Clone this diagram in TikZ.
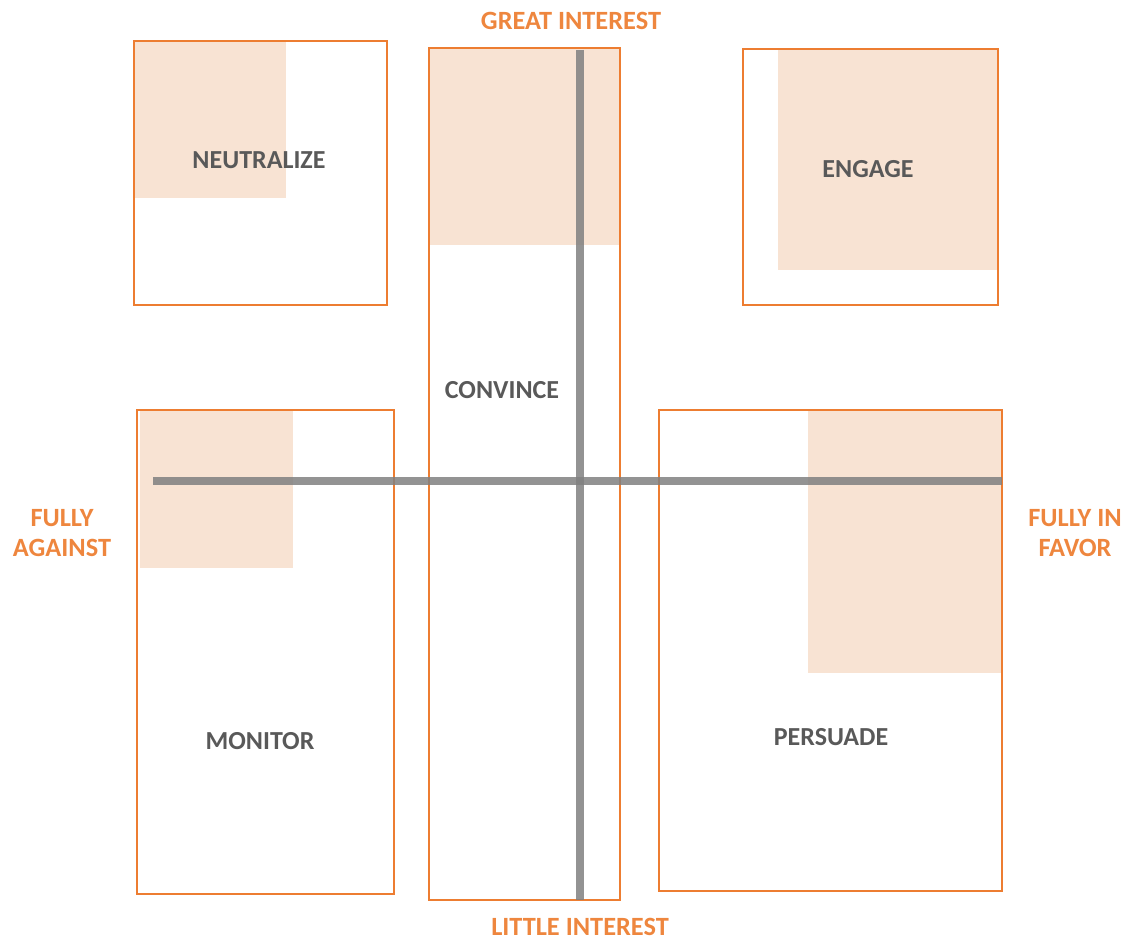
\documentclass[tikz,border=0pt]{standalone}
\usepackage{fontspec}
\setmainfont{Carlito}
\usepackage{tikz}
\usetikzlibrary{arrows.meta}

\definecolor{boxorange}{RGB}{237,125,49}
\definecolor{labelorange}{RGB}{238,134,62}
\definecolor{peach}{RGB}{248,227,211}
\definecolor{axisgray}{RGB}{128,128,128}
\definecolor{textgray}{RGB}{89,89,89}

\tikzset{
    quadbox/.style={draw=boxorange, line width=1.1pt},
    shade/.style={fill=peach},
    axisline/.style={draw=axisgray, line width=5pt, opacity=0.85},
    action/.style={font={\fontsize{14.8}{17}\selectfont\bfseries}, text=textgray},
    pole/.style={font={\fontsize{15}{17.6}\selectfont\bfseries}, text=labelorange, align=center, inner sep=1pt}
}

\begin{document}
\begin{tikzpicture}[x=0.02cm, y=-0.02cm]
        \useasboundingbox (0,0) rectangle (1124,939);
        % shaded parts
        \fill[shade] (134, 40) rectangle (286, 198);
        \fill[shade] (429, 48) rectangle (620, 245);
        \fill[shade] (778, 49) rectangle (998, 270);
        \fill[shade] (140, 410) rectangle (293, 568);
        \fill[shade] (808, 410) rectangle (1002, 673);
        % outlines
        \draw[quadbox] (134, 41) rectangle (387, 305);
        \draw[quadbox] (429, 48) rectangle (620, 900);
        \draw[quadbox] (743, 49) rectangle (998, 305);
        \draw[quadbox] (137, 410) rectangle (394, 894);
        \draw[quadbox] (659, 410) rectangle (1002, 891);
        % axes
        \coordinate (top) at (580, 50);
        \coordinate (bottom) at (580, 900);
        \coordinate (left) at (153, 481);
        \coordinate (right) at (1002, 481);
        \draw[axisline] (top) -- (bottom);
        \draw[axisline] (left) -- (right);
        % labels
        \node[action] (neutralize) at (259, 160) {NEUTRALIZE};
        \node[action] (convince) at (502, 390) {CONVINCE};
        \node[action] (engage) at (868, 169) {ENGAGE};
        \node[action] (monitor) at (260, 741) {MONITOR};
        \node[action] (persuade) at (831, 737) {PERSUADE};
        \node[pole] (great) at (571, 21) {GREAT INTEREST};
        \node[pole, anchor=base, text depth=0pt] (little) at (580, 935) {LITTLE INTEREST};
        \node[pole] (against) at (62, 533) {FULLY\\AGAINST};
        \node[pole] (favor) at (1075, 533) {FULLY IN\\FAVOR};
    \end{tikzpicture}
\end{document}
